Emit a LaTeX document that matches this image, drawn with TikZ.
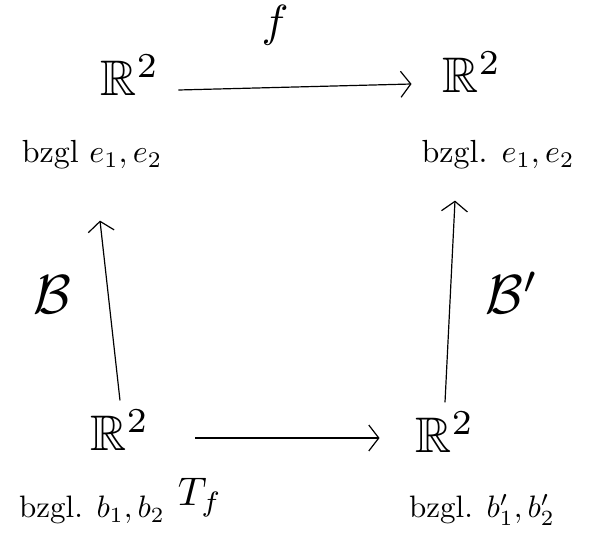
\documentclass[tikz,border=0pt]{standalone}
\usepackage{amssymb}
\usepackage{graphicx}
\usetikzlibrary{arrows.meta,calc}
\begin{document}
\begin{tikzpicture}[x=1pt,y=-1pt,
  space/.style={inner sep=1pt},
  basis/.style={inner sep=1pt},
  lbl/.style={inner sep=1pt},
  map/.style={-{Straight Barb[length=10pt,width=26pt]}, line width=1.2pt}]
\useasboundingbox (0,0) rectangle (598,535);
\node[space] (TL) at (130,75) {\scalebox{5}{$\mathbb{R}^2$}};
\node[basis] (TLl) at (92,155) {\scalebox{3.2}{bzgl $e_1,e_2$}};
\node[space] (TR) at (472,72) {\scalebox{5}{$\mathbb{R}^2$}};
\node[basis] (TRl) at (498,155) {\scalebox{3.2}{bzgl. $e_1, e_2$}};
\node[space] (BL) at (120,430) {\scalebox{5}{$\mathbb{R}^2$}};
\node[basis] (BLl) at (92,510) {\scalebox{3.1}{bzgl. $b_1, b_2$}};
\node[space] (BR) at (445,432) {\scalebox{5}{$\mathbb{R}^2$}};
\node[basis] (BRl) at (482,510) {\scalebox{3.1}{bzgl. $b_1', b_2'$}};
\node[lbl] (f) at (275,25) {\scalebox{4.5}{$f$}};
\node[lbl] (Tf) at (200,498) {\scalebox{4}{$T_f$}};
\node[lbl] (B) at (52,295) {\scalebox{5.5}{$\mathcal{B}$}};
\node[lbl] (Bp) at (512,293) {\scalebox{5.5}{$\mathcal{B}'$}};
\draw[map] ($(TL.east)+(18,15)$) -- ($(TR.west)+(-30,12)$);
\draw[map] ($(BL.east)+(45,8)$) -- ($(BR.west)+(-35,6)$);
\draw[map] ($(BL.north)+(0,-8)$) -- ($(TLl.south)+(8,50)$);
\draw[map] ($(BR.north)+(0,-8)$) -- ($(TRl.south)+(-43,30)$);
\end{tikzpicture}
\end{document}
